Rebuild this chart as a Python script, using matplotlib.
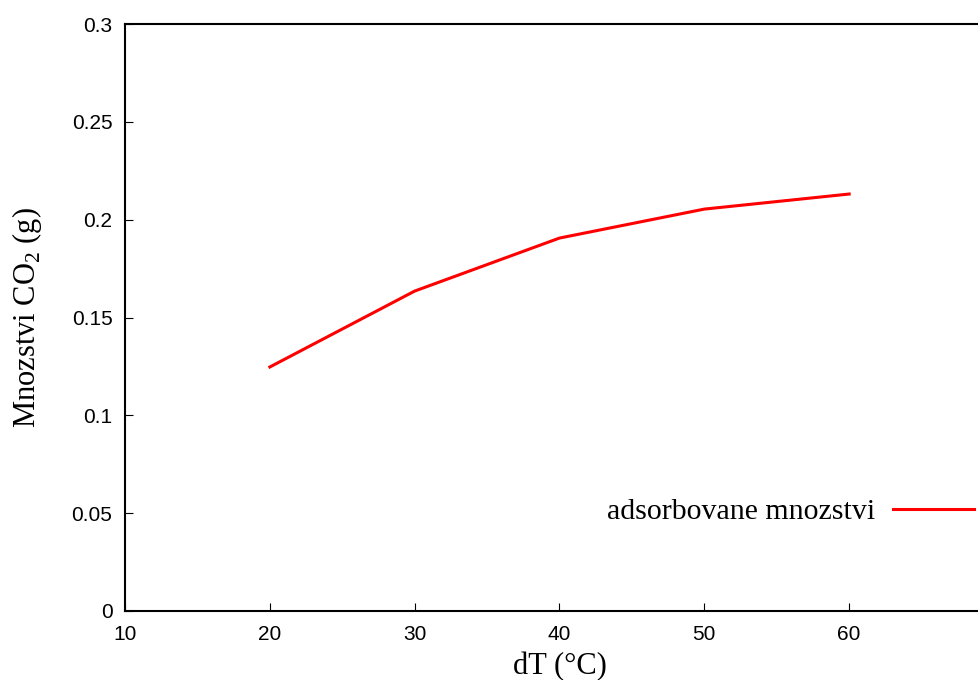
import matplotlib
matplotlib.use('Agg')
import matplotlib.pyplot as plt

# data
dT = [20, 30, 40, 50, 60]
co2 = [0.1247, 0.1635, 0.1906, 0.2054, 0.2131]

plt.rcParams['mathtext.fontset'] = 'custom'
plt.rcParams['mathtext.rm'] = 'Liberation Serif'

fig = plt.figure(figsize=(9.79, 6.8), dpi=100)
# axes run past the right edge of the picture, as in the reference (cropped)
ax = fig.add_axes([125 / 979, 1 - 611 / 680, 869 / 979, (611 - 24) / 680])

ax.plot(dT, co2, color='red', linewidth=2.2, label='adsorbovane mnozstvi')

ax.set_xlim(10, 70)
ax.set_ylim(0, 0.3)
ax.set_xticks([10, 20, 30, 40, 50, 60])
ax.set_yticks([0, 0.05, 0.1, 0.15, 0.2, 0.25, 0.3])
ax.set_yticklabels(['0', '0.05', '0.1', '0.15', '0.2', '0.25', '0.3'])
ax.spines['right'].set_visible(False)
for s in ['left', 'bottom', 'top']:
    ax.spines[s].set_linewidth(1.5)
ax.tick_params(direction='in', length=6, width=0.8, labelsize=15)
ax.tick_params(axis='x', pad=10)
ax.tick_params(axis='y', pad=9)
for lbl in ax.get_xticklabels() + ax.get_yticklabels():
    lbl.set_fontfamily('Liberation Sans')

ax.set_xlabel('dT (°C)', fontfamily='Liberation Serif', fontsize=22, labelpad=6)
ax.set_ylabel('Mnozstvi CO$_2$ (g)', fontfamily='Liberation Serif', fontsize=22, labelpad=20)

ax.legend(loc='center right', bbox_to_anchor=((974 - 125) / 869, 1 - (512 - 24) / 587), frameon=False,
          markerfirst=False, handlelength=2.7, handletextpad=0.6,
          prop={'family': 'Liberation Serif', 'size': 21.5}, borderaxespad=0, borderpad=0)

fig.savefig('out.png', dpi=100)
